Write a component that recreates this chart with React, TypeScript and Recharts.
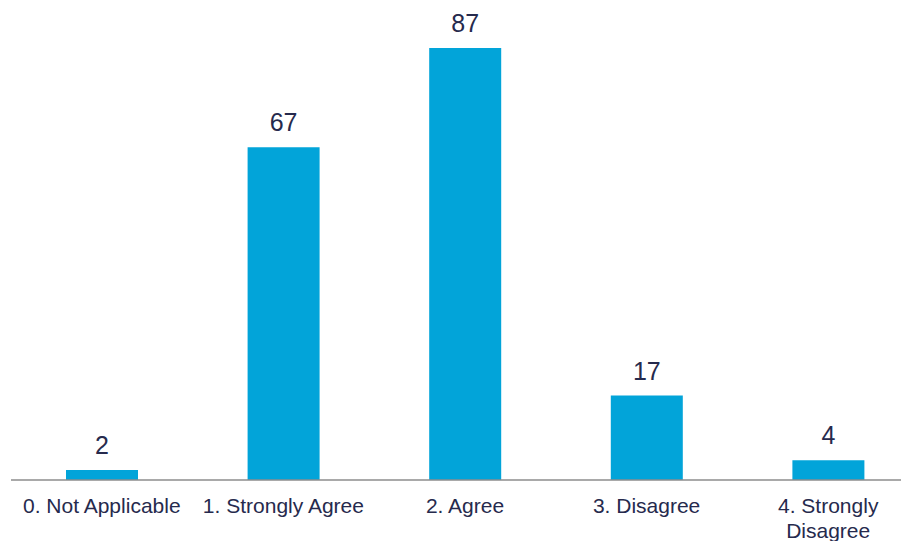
import { BarChart, Bar, XAxis, YAxis, LabelList } from "recharts";

const categories = [
  "0. Not Applicable",
  "1. Strongly Agree",
  "2. Agree",
  "3. Disagree",
  "4. Strongly Disagree",
];
const counts = [2, 67, 87, 17, 4];

const data = categories.map((name, i) => ({ name, count: counts[i] }));

const TEXT = "#262a4d";
const BAR = "#02a4d9";
const FONT = "'Liberation Sans', Arial, sans-serif";

// break long labels at the space nearest the middle
const wrap = (s: string): string[] => {
  if (s.length <= 18) return [s];
  const mid = s.length / 2;
  let best = -1;
  for (let i = 0; i < s.length; i++) {
    if (s[i] === " " && (best < 0 || Math.abs(i - mid) < Math.abs(best - mid))) best = i;
  }
  return best < 0 ? [s] : [s.slice(0, best), s.slice(best + 1)];
};

const CategoryTick = (props: any) => {
  const { x, y, payload } = props;
  const lines = wrap(String(payload.value));
  return (
    <text x={x} y={y + 10} textAnchor="middle" fill={TEXT} fontSize={21} fontFamily={FONT}>
      {lines.map((l, i) => (
        <tspan key={i} x={x} dy={i === 0 ? "0.71em" : 25}>
          {l}
        </tspan>
      ))}
    </text>
  );
};

export default function App() {
  return (
    <div style={{ width: 901, height: 533, overflow: "hidden" }}>
      <BarChart
        width={911}
        height={533}
        data={data}
        margin={{ top: 40, right: 0, left: 3, bottom: 11 }}
        barCategoryGap={0}
      >
        <XAxis
          dataKey="name"
          axisLine={{ stroke: "#8c8c8c", strokeWidth: 1.5 }}
          tickLine={false}
          tick={<CategoryTick />}
          height={50}
          interval={0}
        />
        <YAxis hide domain={[0, 87]} />
        <Bar dataKey="count" fill={BAR} barSize={72} isAnimationActive={false}>
          <LabelList
            dataKey="count"
            position="top"
            offset={16}
            fill={TEXT}
            fontSize={25}
            fontFamily={FONT}
          />
        </Bar>
      </BarChart>
    </div>
  );
}
